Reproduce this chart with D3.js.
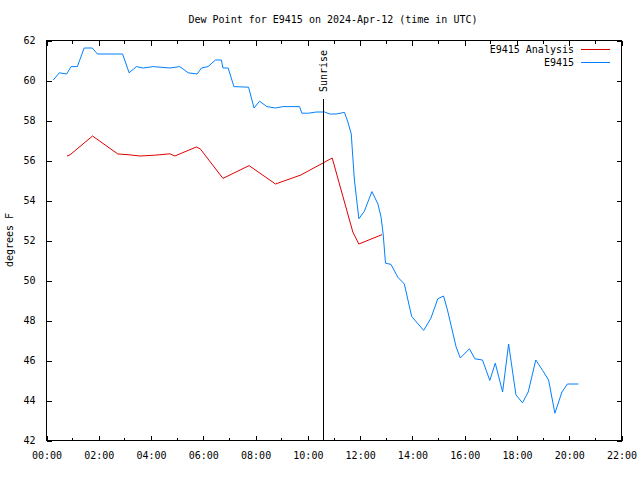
<!DOCTYPE html>
<html>
<head>
<meta charset="utf-8">
<script src="https://cdn.jsdelivr.net/npm/d3@7"></script>
<style>
  html, body { margin: 0; padding: 0; background: #fff; }
  svg { display: block; }
  text { font-family: "DejaVu Sans Mono", monospace; font-size: 10px; fill: #000; }
</style>
</head>
<body>
<svg id="chart" width="640" height="480"></svg>
<script>
// ---- data (hours UTC, degrees F) ----
const obsHours = [0.28, 0.51, 0.79, 0.96, 1.2, 1.46, 1.77, 1.97, 2.93, 3.18, 3.46, 3.72, 4.1, 4.74, 5.12, 5.44, 5.78, 5.95, 6.2, 6.48, 6.71, 6.77, 6.97, 7.19, 7.75, 7.96, 8.17, 8.45, 8.78, 9.07, 9.7, 9.79, 10.05, 10.34, 10.66, 10.85, 11.1, 11.42, 11.55, 11.68, 11.72, 11.8, 11.97, 12.18, 12.47, 12.7, 12.82, 12.9, 12.99, 13.2, 13.46, 13.71, 13.99, 14.45, 14.73, 14.99, 15.21, 15.36, 15.69, 15.85, 16.2, 16.41, 16.7, 16.98, 17.19, 17.47, 17.7, 17.98, 18.23, 18.45, 18.74, 19.0, 19.23, 19.47, 19.74, 19.95, 20.37];
const obsValues = [60.0, 60.36, 60.3, 60.67, 60.67, 61.6, 61.6, 61.3, 61.3, 60.36, 60.67, 60.6, 60.67, 60.6, 60.67, 60.36, 60.3, 60.6, 60.67, 61.0, 61.0, 60.6, 60.6, 59.67, 59.64, 58.6, 58.94, 58.67, 58.6, 58.67, 58.67, 58.34, 58.34, 58.4, 58.4, 58.3, 58.3, 58.38, 57.9, 57.3, 56.5, 55.0, 53.06, 53.44, 54.42, 53.8, 53.14, 52.3, 50.84, 50.78, 50.14, 49.8, 48.18, 47.48, 48.1, 49.06, 49.2, 48.5, 46.66, 46.1, 46.56, 46.06, 46.0, 44.98, 45.84, 44.4, 46.8, 44.26, 43.86, 44.4, 46.0, 45.48, 45.0, 43.34, 44.4, 44.8, 44.8];

const anaHours = [0.8, 0.92, 1.78, 2.75, 3.1, 3.6, 4.16, 4.74, 4.93, 5.75, 5.9, 6.77, 7.77, 8.78, 9.75, 10.95, 11.74, 11.97, 12.86];
const anaValues = [56.2, 56.26, 57.2, 56.3, 56.27, 56.2, 56.24, 56.31, 56.2, 56.65, 56.56, 55.08, 55.72, 54.8, 55.25, 56.1, 52.4, 51.8, 52.27];

const sunriseHour = 10.58;
const xTickHours = [0, 2, 4, 6, 8, 10, 12, 14, 16, 18, 20, 22];
const xMinorHours = [1, 3, 5, 7, 9, 11, 13, 15, 17, 19, 21];
const yTicks = [42, 44, 46, 48, 50, 52, 54, 56, 58, 60, 62];
const seriesNames = ["E9415 Analysis", "E9415"];
const titleText = "Dew Point for E9415 on 2024-Apr-12 (time in UTC)";
const yLabel = "degrees F";

// ---- layout ----
const L = 46, R = 621, T = 40, B = 440;
const svg = d3.select("#chart");
const x = d3.scaleLinear().domain([0, 22]).range([L, R]);
const y = d3.scaleLinear().domain([42, 62]).range([B, T]);
const fmt = h => String(h).padStart(2, "0") + ":00";

const g = svg.append("g");

// border
g.append("rect").attr("x", L + 0.5).attr("y", T + 0.5)
  .attr("width", R - L).attr("height", B - T)
  .attr("fill", "none").attr("stroke", "#000").attr("stroke-width", 1)
  .attr("shape-rendering", "crispEdges");

// x axis bottom
const xAxis = d3.axisBottom(x).tickValues(xTickHours).tickFormat(fmt).tickSize(-5).tickPadding(10);
const xa = g.append("g").attr("transform", `translate(0.5,${B + 0.5})`).call(xAxis);
// x axis top (mirrored)
const xt = g.append("g").attr("transform", `translate(0.5,${T + 0.5})`)
  .call(d3.axisTop(x).tickValues(xTickHours).tickFormat("").tickSize(-5));
// minor ticks
[[B, -3], [T, 3]].forEach(([yy, len]) => {
  g.append("g").selectAll("line").data(xMinorHours).join("line")
    .attr("x1", d => Math.round(x(d)) + 0.5).attr("x2", d => Math.round(x(d)) + 0.5)
    .attr("y1", yy + 0.5).attr("y2", yy + 0.5 + len)
    .attr("stroke", "#000").attr("shape-rendering", "crispEdges");
});
// y axis left
const ya = g.append("g").attr("transform", `translate(${L + 0.5},0.5)`)
  .call(d3.axisLeft(y).tickValues(yTicks).tickSize(-5).tickPadding(11));
// y axis right (mirrored)
const yr = g.append("g").attr("transform", `translate(${R + 0.5},0.5)`)
  .call(d3.axisRight(y).tickValues(yTicks).tickFormat("").tickSize(-5));

[xa, xt, ya, yr].forEach(a => {
  a.select(".domain").remove();
  a.selectAll("line").attr("stroke", "#000").attr("shape-rendering", "crispEdges");
  a.selectAll("text").attr("font-family", "DejaVu Sans Mono, monospace").attr("font-size", 10).attr("fill", "#000");
});
xa.selectAll("text").attr("dy", "0.35em").attr("y", 15);

// title
svg.append("text").attr("x", 333).attr("y", 23).attr("text-anchor", "middle").text(titleText);
// y label
svg.append("text").attr("transform", `translate(13,240) rotate(-90)`)
  .attr("text-anchor", "middle").text(yLabel);

// data lines
const line = d3.line().x(d => x(d[0])).y(d => y(d[1]));
const anaData = anaHours.map((h, i) => [h, anaValues[i]]);
const obsData = obsHours.map((h, i) => [h, obsValues[i]]);
svg.append("path").datum(anaData).attr("d", line)
  .attr("fill", "none").attr("stroke", "#e00000").attr("stroke-width", 1);
svg.append("path").datum(obsData).attr("d", line)
  .attr("fill", "none").attr("stroke", "#0080ff").attr("stroke-width", 1);

// sunrise
const sx = Math.round(x(sunriseHour)) + 0.5;
svg.append("line").attr("x1", sx).attr("x2", sx).attr("y1", 99).attr("y2", B)
  .attr("stroke", "#000").attr("stroke-width", 1).attr("shape-rendering", "crispEdges");
svg.append("text").attr("transform", `translate(${sx + 3.5},92) rotate(-90)`)
  .attr("text-anchor", "start").text("Sunrise");

// legend
const legColors = ["#e00000", "#0080ff"];
seriesNames.forEach((name, i) => {
  const ly = 49.5 + i * 13;
  svg.append("text").attr("x", 574).attr("y", ly).attr("dy", "0.35em")
    .attr("text-anchor", "end").text(name);
  svg.append("line").attr("x1", 581).attr("x2", 610).attr("y1", ly).attr("y2", ly)
    .attr("stroke", legColors[i]).attr("stroke-width", 1).attr("shape-rendering", "crispEdges");
});
</script>
</body>
</html>
